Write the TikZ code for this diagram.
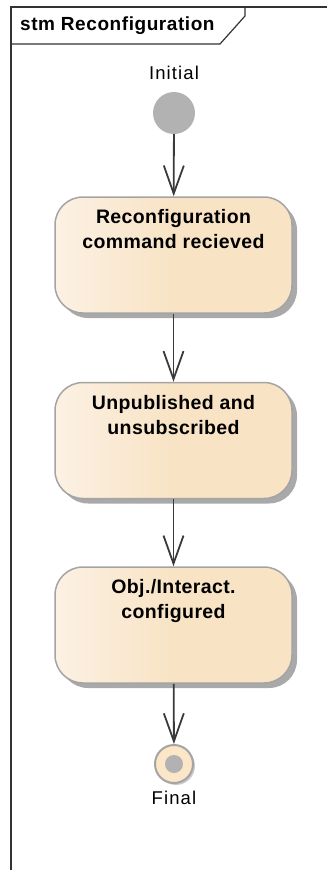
\documentclass[tikz,border=0pt]{standalone}
\usepackage{fontspec}
\setmainfont{Liberation Sans}
\newfontfamily\lblfont[LetterSpace=6]{Liberation Sans}
\newfontfamily\statefont[LetterSpace=2]{Liberation Sans}
\newfontfamily\titlefont[LetterSpace=3]{Liberation Sans}
\usetikzlibrary{positioning,arrows.meta,shadows}

\definecolor{framegray}{HTML}{333333}
\definecolor{stateline}{HTML}{A4A4A4}
\definecolor{stateshadow}{HTML}{A9A9A9}
\definecolor{statelight}{HTML}{FCF1E4}
\definecolor{statefill}{HTML}{F8E3C4}
\definecolor{finalfill}{HTML}{FBE6C8}
\definecolor{pseudogray}{HTML}{B2B2B2}
\definecolor{arrowgray}{HTML}{3A3A3A}

\tikzset{
  statebox/.style={rounded corners=28pt,draw=stateline,line width=1.5pt,
    left color=statelight,right color=statefill,middle color=statefill,
    minimum width=237pt,minimum height=116pt,inner sep=0pt,
    drop shadow={shadow xshift=5pt,shadow yshift=-5pt,fill=stateshadow,opacity=1}},
  statetext/.style={anchor=north,yshift=-13pt,inner sep=0pt,align=center,
    font=\statefont\bfseries\fontsize{19.5}{25}\selectfont},
  lbl/.style={inner sep=0pt,font=\lblfont\fontsize{18.5}{20}\selectfont},
  trans/.style={draw=arrowgray,line width=1.8pt,
    -{Straight Barb[length=28pt,width=20pt,line width=1.8pt]}},
}

\begin{document}
\begin{tikzpicture}[x=1pt,y=-1pt]
\useasboundingbox (0,0) rectangle (327,870);
% diagram frame with its name tab
\draw[framegray,line width=1.6pt] (11,870) -- (11,7) -- (327,7);
\draw[framegray,line width=1.2pt] (11,44) -- (220,44) -- (245,16) -- (245,7);
\node[anchor=west,inner sep=0pt,font=\titlefont\bfseries\fontsize{19}{20}\selectfont] (title) at (20,26) {stm Reconfiguration};

% pseudo states
\node[lbl] (initlbl) at (174,73) {Initial};
\node[circle,fill=pseudogray,minimum size=42pt,inner sep=0pt] (init) at (174,113) {};

% states
\node[statebox,label={[statetext]north:Reconfiguration\\command recieved}] (recv) at (173.5,255) {};
\node[statebox,below=68pt of recv,label={[statetext]north:Unpublished and\\unsubscribed}] (unpub) {};
\node[statebox,below=67pt of unpub,label={[statetext]north:Obj./Interact.\\configured}] (conf) {};

\node[circle,draw=stateline,line width=2pt,fill=finalfill,minimum size=38pt,inner sep=0pt,
  drop shadow={shadow xshift=2pt,shadow yshift=-2pt,fill=stateshadow!60,opacity=1}] (final) at (174,764) {};
\node[circle,fill=pseudogray,minimum size=18pt,inner sep=0pt] (finaldot) at (final.center) {};
\node[lbl] (finallbl) at (174,798) {Final};

% transitions
\draw[trans] (init) -- (recv);
\draw[trans] (recv) -- (unpub);
\draw[trans] (unpub) -- (conf);
\draw[trans] (conf) -- (final);
\end{tikzpicture}
\end{document}
